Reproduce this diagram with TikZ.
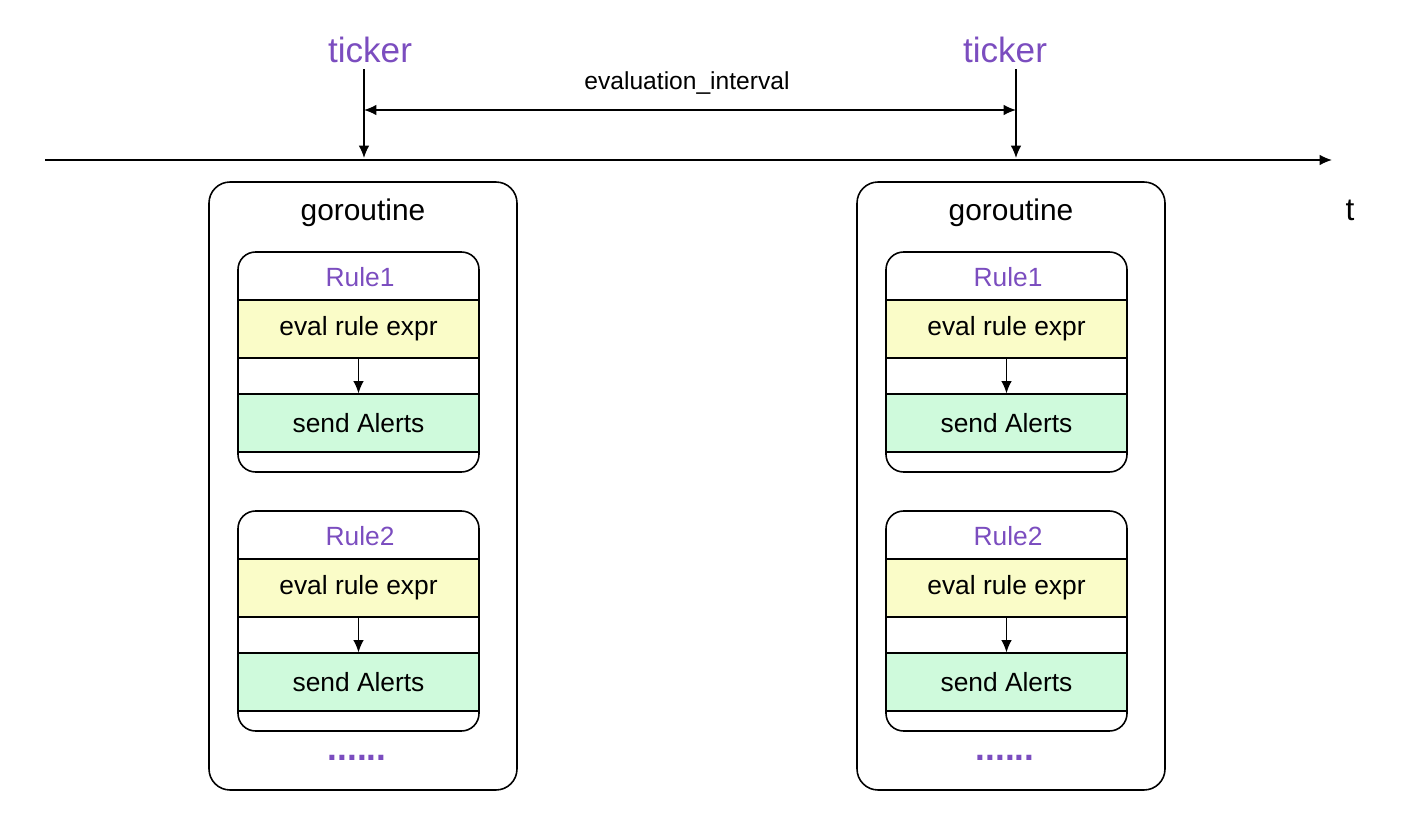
\documentclass[tikz,border=0pt]{standalone}
\usepackage{fontspec}
\setmainfont{Liberation Sans}
\usetikzlibrary{arrows.meta, positioning}
\definecolor{tickpurple}{HTML}{7B4DBF}
\definecolor{evalyellow}{HTML}{FAFCC8}
\definecolor{sendgreen}{HTML}{CFFADC}

\begin{document}
\begin{tikzpicture}[
    x=0.02cm, y=-0.02cm,
    outer/.style={draw, rounded corners=12pt, line width=0.9pt},
    band/.style={rectangle, draw, line width=0.7pt, minimum width=4.82cm, minimum height=1.16cm, font=\fontsize{15}{18}\selectfont},
    title/.style={text=tickpurple, font=\fontsize{15}{18}\selectfont},
    arrow/.style={-{Latex[length=7pt,width=6pt]}, line width=0.8pt}
]
\useasboundingbox (0,0) rectangle (1416,834);

% Time axis
\coordinate (t0) at (45,160);
\coordinate (t1) at (1332,160);
\draw[arrow] (t0) -- (t1);
\node[font=\fontsize{18}{22}\selectfont] (t) at (1350,210) {t};

% Tickers
\node[text=tickpurple, font=\fontsize{20}{24}\selectfont] (tickA) at (370,50) {ticker};
\node[text=tickpurple, font=\fontsize{20}{24}\selectfont] (tickB) at (1005,50) {ticker};
\coordinate (hitA) at (364,158);
\coordinate (hitB) at (1016,158);
\draw[arrow] (tickA.south -| hitA) -- (hitA);
\draw[arrow] (tickB.south -| hitB) -- (hitB);
\coordinate (ivA) at (364,110);
\coordinate (ivB) at (1016,110);
\draw[{Latex[length=7pt,width=6pt]}-{Latex[length=7pt,width=6pt]}, line width=0.8pt] (ivA) -- (ivB);
\node[font=\fontsize{14}{17}\selectfont] (interval) at (687,83) {evaluation\_interval};

% Goroutines
\foreach \dx/\g in {0/a, 648/b} {
  \begin{scope}[xshift=\dx*0.02cm]
    \draw[outer] (209,182) rectangle (517,790);
    \node[font=\fontsize{17}{20}\selectfont] (gor\g) at (363,213) {goroutine};
    \foreach \dy/\r in {0/1, 259/2} {
      \begin{scope}[yshift=-\dy*0.02cm]
        \node[band, fill=evalyellow] (eval\g\r) at (358.5,329) {eval rule expr};
        \node[band, fill=sendgreen] (send\g\r) at (358.5,423) {send Alerts};
        \draw[outer, rounded corners=10pt] (238,252) rectangle (479,472);
        \node[title] (rule\g\r) at (360,277) {Rule\r};
        \draw[arrow] (eval\g\r) -- (send\g\r);
      \end{scope}
    }
    \node[text=tickpurple, font=\fontsize{20}{24}\selectfont\bfseries] (dots\g) at (357,758) {......};
  \end{scope}
}
\end{tikzpicture}
\end{document}
